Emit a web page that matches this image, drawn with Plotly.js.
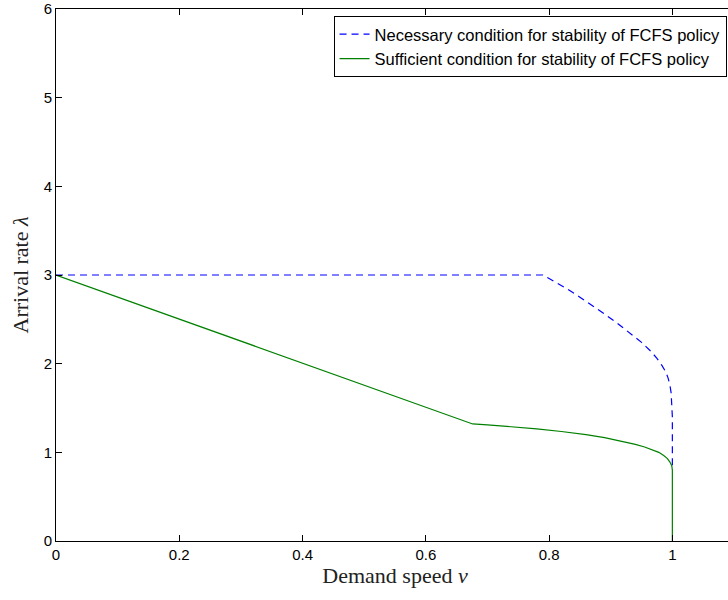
<!DOCTYPE html>
<html><head><meta charset="utf-8">
<script src="https://cdn.plot.ly/plotly-3.0.1.min.js"></script>
<style>html,body{margin:0;padding:0;overflow:hidden;background:#fff;}#chart{width:740px;height:600px;}</style>
</head><body><div id="chart"></div>
<script>
// Necessary condition for stability (blue dashed)
const necX = [0, 0.79, 0.80, 0.81, 0.83, 0.85, 0.87, 0.89, 0.91, 0.93, 0.95, 0.965, 0.975, 0.983, 0.989, 0.993, 0.996, 0.998, 0.999, 1.0, 1.0];
const necY = [3, 3, 2.96, 2.92, 2.84, 2.75, 2.66, 2.56, 2.46, 2.35, 2.24, 2.14, 2.06, 1.98, 1.91, 1.84, 1.76, 1.67, 1.56, 1.4, 0.8];
// Sufficient condition for stability (green solid)
const sufX = [0, 0.676, 0.70, 0.74, 0.78, 0.82, 0.86, 0.89, 0.92, 0.94, 0.955, 0.968, 0.978, 0.986, 0.992, 0.996, 0.999, 1.0, 1.0];
const sufY = [3, 1.32, 1.31, 1.29, 1.265, 1.235, 1.20, 1.165, 1.125, 1.09, 1.06, 1.03, 1.0, 0.965, 0.93, 0.89, 0.85, 0.8, 0];
const names = ["Necessary condition for stability of FCFS policy", "Sufficient condition for stability of FCFS policy"];
const xTicks = [0, 0.2, 0.4, 0.6, 0.8, 1];
const yTicks = [0, 1, 2, 3, 4, 5, 6];

const traces = [
  {x: necX, y: necY, mode: "lines", name: names[0], line: {color: "#0000ff", width: 1.2, dash: "7px,5px"}},
  {x: sufX, y: sufY, mode: "lines", name: names[1], line: {color: "#008000", width: 1.2}}
];
const axisCommon = {showgrid: false, zeroline: false, showline: true, linecolor: "#000", linewidth: 1,
  mirror: "ticks", ticks: "inside", ticklen: 6, tickcolor: "#000", ticklabeloverflow: "allow",
  tickfont: {family: "Liberation Sans, Arial, sans-serif", size: 15, color: "#000"}};
const layout = {
  width: 740, height: 600,
  margin: {l: 56, r: 6, t: 9, b: 59},
  paper_bgcolor: "#fff", plot_bgcolor: "#fff",
  showlegend: true,
  legend: {x: 0.989, y: 0.987, xanchor: "right", yanchor: "top", bgcolor: "#fff", bordercolor: "#000", borderwidth: 1,
    font: {family: "Liberation Sans, Arial, sans-serif", size: 16.5, color: "#000"}, tracegroupgap: 0},
  xaxis: Object.assign({}, axisCommon, {range: [0, 1.1], tickvals: xTicks, ticktext: xTicks.map(String),
    title: {text: "Demand speed <i>v</i>", font: {family: "Liberation Serif, Times New Roman, serif", size: 22, color: "#222"}, standoff: 4}}),
  yaxis: Object.assign({}, axisCommon, {range: [0, 6], tickvals: yTicks, ticktext: yTicks.map(String),
    title: {text: "Arrival rate <i>λ</i>", font: {family: "Liberation Serif, Times New Roman, serif", size: 22, color: "#222"}, standoff: 8}})
};
Plotly.newPlot("chart", traces, layout, {displayModeBar: false, staticPlot: true});
</script></body></html>
